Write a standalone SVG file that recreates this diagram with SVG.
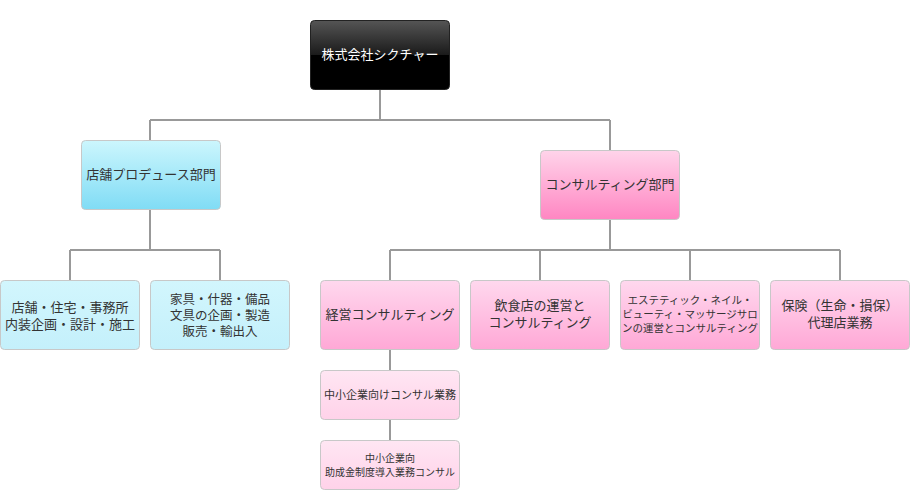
<svg xmlns="http://www.w3.org/2000/svg" width="910" height="490" viewBox="0 0 910 490">
<defs>
<linearGradient id="gBlack" x1="0" y1="0" x2="0" y2="1">
<stop offset="0" stop-color="#555"/><stop offset="0.5" stop-color="#1a1a1a"/><stop offset="0.5" stop-color="#000"/><stop offset="1" stop-color="#000"/>
</linearGradient>
<linearGradient id="gBlue" x1="0" y1="0" x2="0" y2="1">
<stop offset="0" stop-color="#ccf6fd"/><stop offset="1" stop-color="#80dcf5"/>
</linearGradient>
<linearGradient id="gBlueL" x1="0" y1="0" x2="0" y2="1">
<stop offset="0" stop-color="#d2f6fd"/><stop offset="1" stop-color="#c4f0fb"/>
</linearGradient>
<linearGradient id="gPink" x1="0" y1="0" x2="0" y2="1">
<stop offset="0" stop-color="#ffd4ea"/><stop offset="1" stop-color="#ff86c2"/>
</linearGradient>
<linearGradient id="gPinkM" x1="0" y1="0" x2="0" y2="1">
<stop offset="0" stop-color="#ffd8ee"/><stop offset="1" stop-color="#ffa8d6"/>
</linearGradient>
<linearGradient id="gPinkL" x1="0" y1="0" x2="0" y2="1">
<stop offset="0" stop-color="#ffe6f3"/><stop offset="1" stop-color="#ffd2e9"/>
</linearGradient>
</defs>
<style>
.box{stroke:#c8c8c8;stroke-width:1}
.t{font-family:"Noto Sans CJK JP","Noto Sans CJK SC",sans-serif;fill:#333;text-anchor:middle}
.w{fill:#fff}
.conn{fill:none;stroke:#999;stroke-width:2}
</style>
<g id="connectors">
<path class="conn" d="M380,89V120M150,120H610M150,120V140M610,120V150"/>
<path class="conn" d="M150,209V250M70,250H220M70,250V280M220,250V280"/>
<path class="conn" d="M610,219V250M390,250H840M390,250V280M540,250V280M690,250V280M840,250V280"/>
<path class="conn" d="M390,349V370M390,419V440"/>
</g>
<g id="root">
<rect x="310.5" y="20.5" width="139" height="69" rx="4" fill="url(#gBlack)" stroke="#222"/>
<text class="t w" x="380" y="59" font-size="13">株式会社シクチャー</text>
</g>
<g id="dept-store">
<rect class="box" x="81.5" y="140.5" width="139" height="69" rx="4" fill="url(#gBlue)"/>
<text class="t" x="151" y="179" font-size="13">店舗プロデュース部門</text>
</g>
<g id="dept-consult">
<rect class="box" x="540.5" y="150.5" width="139" height="69" rx="4" fill="url(#gPink)"/>
<text class="t" x="610" y="189" font-size="13">コンサルティング部門</text>
</g>
<g id="store-1">
<rect class="box" x="0.5" y="280.5" width="139" height="69" rx="4" fill="url(#gBlueL)"/>
<text class="t" x="70" y="312" font-size="13">店舗・住宅・事務所</text>
<text class="t" x="70" y="329" font-size="13">内装企画・設計・施工</text>
</g>
<g id="store-2">
<rect class="box" x="150.5" y="280.5" width="139" height="69" rx="4" fill="url(#gBlueL)"/>
<text class="t" x="220" y="304" font-size="12.5">家具・什器・備品</text>
<text class="t" x="220" y="320" font-size="12.5">文具の企画・製造</text>
<text class="t" x="220" y="336" font-size="12.5">販売・輸出入</text>
</g>
<g id="c-1">
<rect class="box" x="320.5" y="280.5" width="139" height="69" rx="4" fill="url(#gPinkM)"/>
<text class="t" x="390" y="319" font-size="13">経営コンサルティング</text>
</g>
<g id="c-2">
<rect class="box" x="470.5" y="280.5" width="139" height="69" rx="4" fill="url(#gPinkM)"/>
<text class="t" x="540" y="310" font-size="13">飲食店の運営と</text>
<text class="t" x="540" y="327" font-size="13">コンサルティング</text>
</g>
<g id="c-3">
<rect class="box" x="620.5" y="280.5" width="139" height="69" rx="4" fill="url(#gPinkM)"/>
<text class="t" x="690" y="304" font-size="10.5">エステティック・ネイル・</text>
<text class="t" x="690" y="318" font-size="10.5">ビューティ・マッサージサロ</text>
<text class="t" x="690" y="332" font-size="10.5">ンの運営とコンサルティング</text>
</g>
<g id="c-4">
<rect class="box" x="770.5" y="280.5" width="139" height="69" rx="4" fill="url(#gPinkM)"/>
<text class="t" x="840" y="310" font-size="13">保険（生命・損保）</text>
<text class="t" x="840" y="327" font-size="13">代理店業務</text>
</g>
<g id="c-1-1">
<rect class="box" x="320.5" y="370.5" width="139" height="49" rx="4" fill="url(#gPinkL)"/>
<text class="t" x="390" y="399" font-size="11">中小企業向けコンサル業務</text>
</g>
<g id="c-1-2">
<rect class="box" x="320.5" y="440.5" width="139" height="49" rx="4" fill="url(#gPinkL)"/>
<text class="t" x="390" y="462" font-size="10">中小企業向</text>
<text class="t" x="390" y="476" font-size="10">助成金制度導入業務コンサル</text>
</g>
</svg>
